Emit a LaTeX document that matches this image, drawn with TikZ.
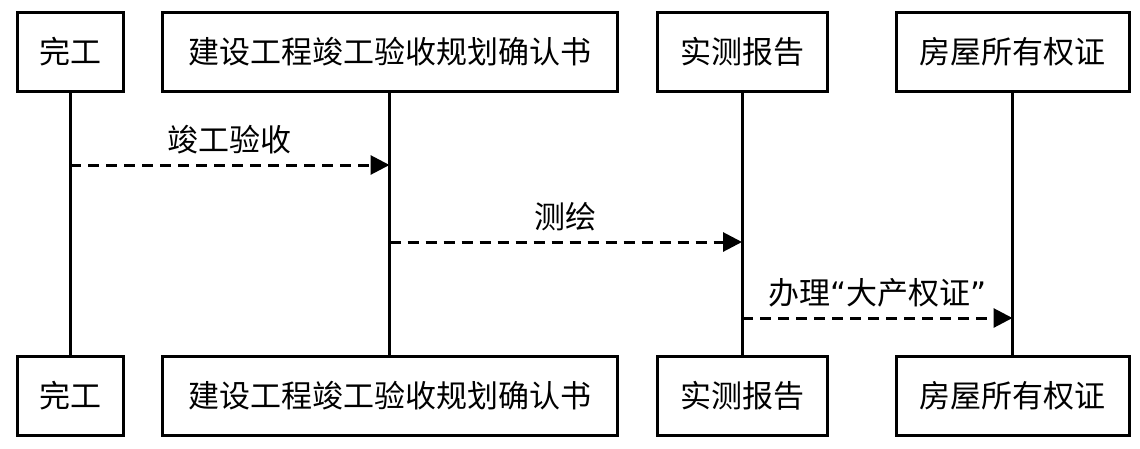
\documentclass[tikz,border=0pt]{standalone}
\usepackage{fontspec}
\setmainfont{Noto Sans CJK SC}
\newfontfamily\quotefont{DejaVu Sans}
\usepackage{tikz}
\usetikzlibrary{positioning,arrows.meta}
\tikzset{
  partbox/.style={draw, line width=3pt, minimum height=79pt, inner sep=0pt, align=center, font=\fontsize{31pt}{36pt}\selectfont},
  lifeline/.style={line width=3pt},
  msgarrow/.style={-{Triangle[length=19pt, width=19pt]}, line width=3pt, dash pattern=on 11pt off 7pt},
  msglabel/.style={font=\fontsize{31pt}{36pt}\selectfont, inner sep=0pt}
}
\begin{document}
\begin{tikzpicture}[x=1pt, y=-1pt]
  \useasboundingbox (0,0) rectangle (1140,448);
  % top row
  \node[partbox, minimum width=106pt] (wg) at (70,51.5) {完工};
  \node[partbox, minimum width=455pt] (qr) at (389.5,51.5) {建设工程竣工验收规划确认书};
  \node[partbox, minimum width=170pt] (sc) at (742,51.5) {实测报告};
  \node[partbox, minimum width=233pt] (cq) at (1012.5,51.5) {房屋所有权证};
  % bottom row
  \node[partbox, minimum width=106pt] (wgb) at (70,395.5) {完工};
  \node[partbox, minimum width=455pt] (qrb) at (389.5,395.5) {建设工程竣工验收规划确认书};
  \node[partbox, minimum width=170pt] (scb) at (742,395.5) {实测报告};
  \node[partbox, minimum width=233pt] (cqb) at (1012.5,395.5) {房屋所有权证};
  % lifelines
  \draw[lifeline] (wg) -- (wgb);
  \draw[lifeline] (qr) -- (qrb);
  \draw[lifeline] (sc) -- (scb);
  \draw[lifeline] (cq) -- (cqb);
  % messages
  \coordinate (r1) at (0,165);
  \coordinate (r2) at (0,242);
  \coordinate (r3) at (0,318);
  \draw[msgarrow] (wg |- r1) -- node[msglabel, yshift=25pt] {竣工验收} (qr |- r1);
  \draw[msgarrow] (qr |- r2) -- node[msglabel, yshift=25pt] {测绘} (sc |- r2);
  \draw[msgarrow] (sc |- r3) -- node[msglabel, yshift=25pt] {办理{\quotefont “}大产权证{\quotefont ”}} (cq |- r3);
\end{tikzpicture}
\end{document}
